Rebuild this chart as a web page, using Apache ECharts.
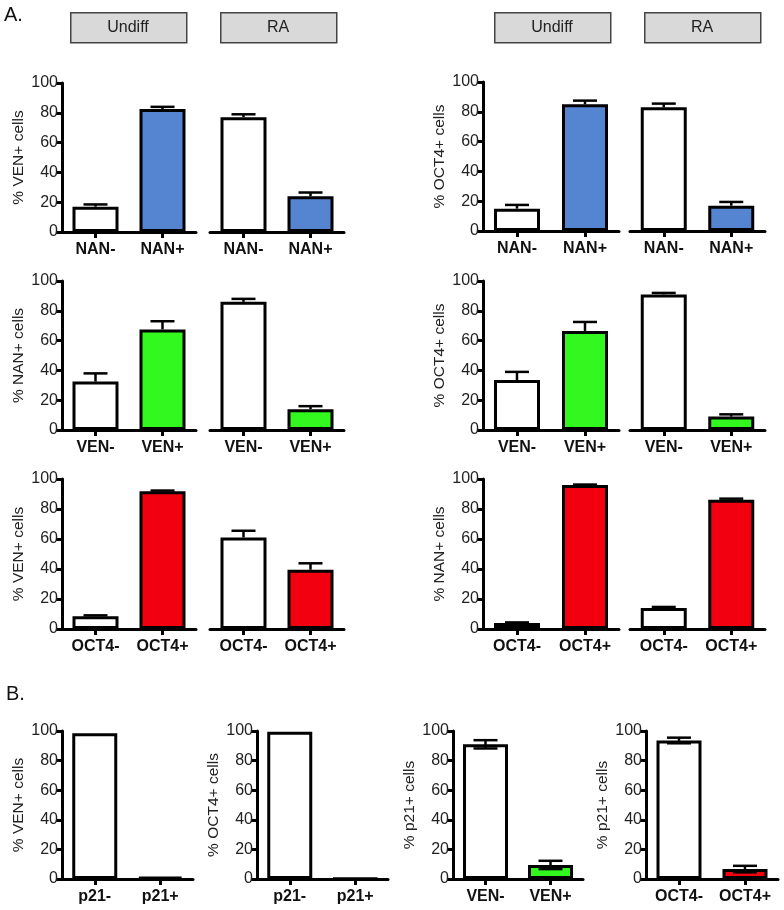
<!DOCTYPE html>
<html>
<head>
<meta charset="utf-8">
<script src="https://cdn.jsdelivr.net/npm/echarts@6/dist/echarts.min.js"></script>
<style>
html,body{margin:0;padding:0;background:#fff;}
#chart{width:784px;height:910px;}
</style>
</head>
<body>
<div id="chart"></div>
<script>
// ---------- DATA ----------
const catsNAN = ['NAN-', 'NAN+'];
const catsVEN = ['VEN-', 'VEN+'];
const catsOCT4 = ['OCT4-', 'OCT4+'];
const catsVENp = ['VEN-', 'VEN+'];
const catsOCTp = ['OCT4-', 'OCT4+'];
const catsP21 = ['p21-', 'p21+'];
const headerLabels = ['Undiff', 'RA'];

// Section A, row 1
const venByNanUndiff = [17, 82.5];   const venByNanUndiffErr = [1.5, 1.5];
const venByNanRA = [77, 24];         const venByNanRAErr = [2, 2.5];
const octByNanUndiff = [15, 85];     const octByNanUndiffErr = [2.5, 2.5];
const octByNanRA = [83, 17];         const octByNanRAErr = [2.5, 2.5];
// Section A, row 2
const nanByVenUndiff = [32.5, 67.5]; const nanByVenUndiffErr = [5.5, 5.5];
const nanByVenRA = [86, 14];         const nanByVenRAErr = [2, 2];
const octByVenUndiff = [33.5, 66.5]; const octByVenUndiffErr = [5.5, 6];
const octByVenRA = [91, 9];          const octByVenRAErr = [1, 1.5];
// Section A, row 3
const venByOctUndiff = [8.5, 91.8];  const venByOctUndiffErr = [0.6, 0.5];
const venByOctRA = [61, 39.5];       const venByOctRAErr = [4.5, 4.3];
const nanByOctUndiff = [4, 96];      const nanByOctUndiffErr = [0.4, 0.3];
const nanByOctRA = [14, 86.2];       const nanByOctRAErr = [0.7, 0.7];
// Section B
const venByP21 = [98.5, 1.5];
const octByP21 = [99.5, 0.3];
const p21ByVen = [91, 9.5];          const p21ByVenErr = [2.8, 2.8];
const p21ByOct = [93.6, 6.7];        const p21ByOctErr = [1.9, 2.2];

// ---------- STYLE ----------
const FONT = '"Liberation Sans", Arial, Helvetica, sans-serif';
const BLUE = '#5585d0', GREEN = '#33f81f', RED = '#f2000f', WHITE = '#ffffff';

const panels = [
  // row 1
  {box:[62, 83, 134, 149], y:true,  name:'% VEN+ cells',  cats:catsNAN, vals:venByNanUndiff, errs:venByNanUndiffErr, color:BLUE},
  {box:[210, 83, 134, 149], y:false, cats:catsNAN, vals:venByNanRA, errs:venByNanRAErr, color:BLUE},
  {box:[483, 82, 136, 149], y:true,  name:'% OCT4+ cells', cats:catsNAN, vals:octByNanUndiff, errs:octByNanUndiffErr, color:BLUE},
  {box:[630, 82, 135, 149], y:false, cats:catsNAN, vals:octByNanRA, errs:octByNanRAErr, color:BLUE},
  // row 2
  {box:[62, 281, 134, 149], y:true,  name:'% NAN+ cells',  cats:catsVEN, vals:nanByVenUndiff, errs:nanByVenUndiffErr, color:GREEN},
  {box:[210, 281, 134, 149], y:false, cats:catsVEN, vals:nanByVenRA, errs:nanByVenRAErr, color:GREEN},
  {box:[483, 281, 136, 149], y:true,  name:'% OCT4+ cells', cats:catsVEN, vals:octByVenUndiff, errs:octByVenUndiffErr, color:GREEN},
  {box:[630, 281, 135, 149], y:false, cats:catsVEN, vals:octByVenRA, errs:octByVenRAErr, color:GREEN},
  // row 3
  {box:[62, 479, 134, 150], y:true,  name:'% VEN+ cells',  cats:catsOCT4, vals:venByOctUndiff, errs:venByOctUndiffErr, color:RED},
  {box:[210, 479, 134, 150], y:false, cats:catsOCT4, vals:venByOctRA, errs:venByOctRAErr, color:RED},
  {box:[483, 479, 136, 150], y:true,  name:'% NAN+ cells',  cats:catsOCT4, vals:nanByOctUndiff, errs:nanByOctUndiffErr, color:RED},
  {box:[630, 479, 135, 150], y:false, cats:catsOCT4, vals:nanByOctRA, errs:nanByOctRAErr, color:RED},
  // section B
  {box:[62, 731, 131, 148], y:true, name:'% VEN+ cells',  cats:catsP21, vals:venByP21, errs:null, color:WHITE, barW:45},
  {box:[257, 731, 131, 148], y:true, name:'% OCT4+ cells', cats:catsP21, vals:octByP21, errs:null, color:WHITE, barW:45},
  {box:[453, 731, 130, 148], y:true, name:'% p21+ cells',  cats:catsVENp, vals:p21ByVen, errs:p21ByVenErr, color:GREEN, barW:45, both:true},
  {box:[646, 731, 132, 148], y:true, name:'% p21+ cells',  cats:catsOCTp, vals:p21ByOct, errs:p21ByOctErr, color:RED, barW:45, both:true}
];

const grid = [], xAxis = [], yAxis = [], series = [];
panels.forEach((p, i) => {
  grid.push({left:p.box[0], top:p.box[1], width:p.box[2], height:p.box[3], containLabel:false});
  xAxis.push({
    type:'category', gridIndex:i, data:p.cats,
    axisLine:{show:true, lineStyle:{color:'#000', width:3}},
    axisTick:{show:true, alignWithLabel:true, interval:0, length:6, lineStyle:{color:'#000', width:3}},
    axisLabel:{interval:0, hideOverlap:false, fontFamily:FONT, fontWeight:'bold', fontSize:16, color:'#111', margin:10},
    splitLine:{show:false}
  });
  yAxis.push({
    type:'value', gridIndex:i, min:0, max:100, interval:20, show:p.y,
    name:p.name || '', nameLocation:'middle', nameRotate:90, nameGap:35,
    nameTextStyle:{fontFamily:FONT, fontSize:15.5, color:'#222'},
    axisLine:{show:true, lineStyle:{color:'#000', width:3}},
    axisTick:{show:true, length:6, lineStyle:{color:'#000', width:3}},
    axisLabel:{fontFamily:FONT, fontSize:16, color:'#222', margin:4},
    splitLine:{show:false}
  });
  series.push({
    type:'bar', xAxisIndex:i, yAxisIndex:i, barWidth:p.barW || 46, z:2,
    itemStyle:{borderColor:'#000', borderWidth:3},
    data:p.vals.map((v, k) => ({value:v, itemStyle:{color: k === 0 ? WHITE : p.color}}))
  });
  if (p.errs) {
    const both = !!p.both;
    series.push({
      type:'custom', xAxisIndex:i, yAxisIndex:i, z: both ? 3 : 1,
      data:p.vals.map((v, k) => [k, v, p.errs[k]]),
      renderItem:function(params, api){
        const x = api.value(0), v = api.value(1), e = api.value(2);
        const top = api.coord([x, v + e]);
        const bot = api.coord([x, both ? v - e : v]);
        const half = 12;
        const st = {stroke:'#000', lineWidth:2.5};
        const ch = [
          {type:'line', shape:{x1:top[0], y1:top[1], x2:bot[0], y2:bot[1]}, style:st},
          {type:'line', shape:{x1:top[0]-half, y1:top[1], x2:top[0]+half, y2:top[1]}, style:st}
        ];
        if (both) ch.push({type:'line', shape:{x1:bot[0]-half, y1:bot[1], x2:bot[0]+half, y2:bot[1]}, style:st});
        return {type:'group', children:ch};
      }
    });
  }
});

const boxes = [[70, 12], [220, 12], [494, 12], [644, 12]];
const graphic = [
  {type:'text', left:4, top:5, style:{text:'A.', font:'20px ' + FONT, fill:'#111'}},
  {type:'text', left:6, top:684, style:{text:'B.', font:'20px ' + FONT, fill:'#111'}}
];
boxes.forEach((b, k) => {
  graphic.push({type:'rect', left:b[0], top:b[1], shape:{width:116, height:30},
    style:{fill:'#d9d9d9', stroke:'#444', lineWidth:1.5}});
  graphic.push({type:'text', x:b[0] + 58, y:b[1] + 16,
    style:{text:headerLabels[k % 2], font:'16px ' + FONT, fill:'#222', align:'center', verticalAlign:'middle'}});
});

const chart = echarts.init(document.getElementById('chart'), null, {renderer:'canvas'});
chart.setOption({animation:false, backgroundColor:'#fff', grid, xAxis, yAxis, series, graphic});
</script>
</body>
</html>
